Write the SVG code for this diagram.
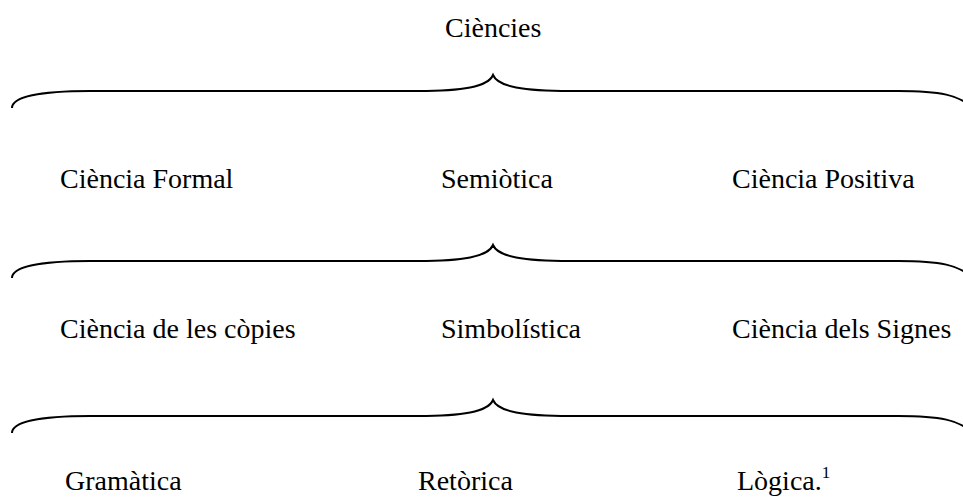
<svg xmlns="http://www.w3.org/2000/svg" width="963" height="499" viewBox="0 0 963 499">
<style>
.t{font-family:'Liberation Serif','Times New Roman',Times,serif;font-size:28px;fill:#000}
.sup{font-size:17px}
.brace{fill:none;stroke:#000;stroke-width:2}
</style>
<defs>
<path id="br" class="brace" d="M12,108 C12,97 40,91 90,91 L418,91 C462,91 488,87 493,75 C498,87 524,91 570,91 L898,91 C940,91 960,95 972,108"/>
</defs>
<rect width="963" height="499" fill="#fff"/>
<g id="connectors">
<use href="#br"/>
<use href="#br" transform="translate(0,170)"/>
<use href="#br" transform="translate(0,325)"/>
</g>
<g class="t" font-family="Liberation Serif, serif">
<g id="n-ciencies"><text x="445" y="37">Ciències</text></g>
<g id="n-formal"><text x="60" y="188">Ciència Formal</text></g>
<g id="n-semiotica"><text x="441" y="188">Semiòtica</text></g>
<g id="n-positiva"><text x="732" y="188">Ciència Positiva</text></g>
<g id="n-copies"><text x="60" y="338">Ciència de les còpies</text></g>
<g id="n-simbolistica"><text x="441" y="338">Simbolística</text></g>
<g id="n-signes"><text x="732" y="338">Ciència dels Signes</text></g>
<g id="n-gramatica"><text x="65" y="490">Gramàtica</text></g>
<g id="n-retorica"><text x="418" y="490">Retòrica</text></g>
<g id="n-logica"><text x="737" y="490">Lògica.<tspan class="sup" dy="-12">1</tspan></text></g>
</g>
</svg>
